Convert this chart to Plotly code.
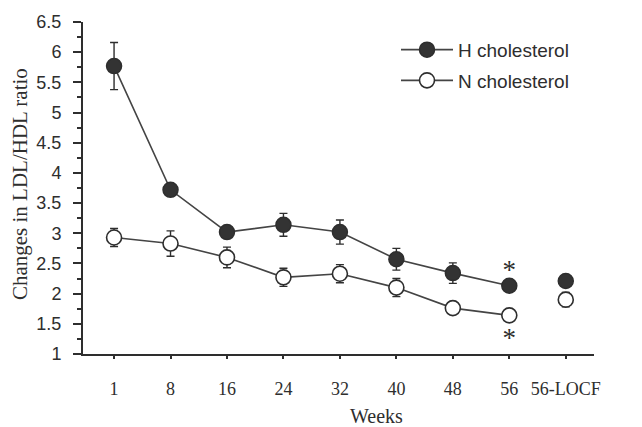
import plotly.graph_objects as go

categories = ["1", "8", "16", "24", "32", "40", "48", "56", "56-LOCF"]
h_values = [5.77, 3.72, 3.02, 3.14, 3.02, 2.57, 2.34, 2.13, 2.21]
h_errors = [0.39, 0.05, 0.10, 0.19, 0.20, 0.18, 0.17, 0.08, 0.08]
n_values = [2.93, 2.83, 2.60, 2.27, 2.33, 2.10, 1.76, 1.64, 1.90]
n_errors = [0.15, 0.21, 0.17, 0.15, 0.15, 0.15, 0.06, 0.06, 0.12]
star_y = [2.35, 1.23]
y_ticks = [1, 1.5, 2, 2.5, 3, 3.5, 4, 4.5, 5, 5.5, 6, 6.5]

xpos = list(range(len(categories)))
main_n = len(categories) - 1  # last category drawn unconnected

ink = "#2e2e2e"
line_col = "#444444"
sans = "Liberation Sans, Arial, sans-serif"
serif = "Liberation Serif, Times New Roman, serif"

fig = go.Figure()

# connecting lines (first 8 points)
fig.add_trace(go.Scatter(
    x=xpos[:main_n], y=h_values[:main_n], mode="lines",
    line=dict(color=line_col, width=1.6), showlegend=False, hoverinfo="skip"))
fig.add_trace(go.Scatter(
    x=xpos[:main_n], y=n_values[:main_n], mode="lines",
    line=dict(color=line_col, width=1.6), showlegend=False, hoverinfo="skip"))

# markers with error bars
fig.add_trace(go.Scatter(
    x=xpos, y=h_values, mode="markers", name="H cholesterol",
    marker=dict(size=15, color="#333333", line=dict(color=ink, width=1.5)),
    error_y=dict(type="data", array=h_errors, visible=True, color=ink, thickness=1.4, width=4),
    showlegend=False))
fig.add_trace(go.Scatter(
    x=xpos, y=n_values, mode="markers", name="N cholesterol",
    marker=dict(size=15, color="white", line=dict(color=ink, width=1.6)),
    error_y=dict(type="data", array=n_errors, visible=True, color=ink, thickness=1.4, width=4),
    showlegend=False))

# legend entries
fig.add_trace(go.Scatter(
    x=[None], y=[None], mode="lines+markers", name="H cholesterol", legendgroup="h",
    marker=dict(size=15, color="#333333", line=dict(color=ink, width=1.5)),
    line=dict(color=line_col, width=1.6)))
fig.add_trace(go.Scatter(
    x=[None], y=[None], mode="lines+markers", name="N cholesterol", legendgroup="n",
    marker=dict(size=15, color="white", line=dict(color=ink, width=1.6)),
    line=dict(color=line_col, width=1.6)))

# significance stars at week 56
fig.add_trace(go.Scatter(
    x=[xpos[7], xpos[7]], y=star_y, mode="text", text=["*", "*"],
    textfont=dict(family=serif, size=27, color=ink),
    textposition="middle center", showlegend=False, hoverinfo="skip"))

L, R, T, B = 83, 48, 14, 73
W, H = 642, 427
pw, ph = W - L - R, H - T - B


def px_x(x):
    return (x - L) / pw


def px_y(y):
    return (H - B - y) / ph


fig.update_layout(
    width=W, height=H,
    margin=dict(l=L, r=R, t=T, b=B),
    paper_bgcolor="white", plot_bgcolor="white",
    showlegend=True,
    legend=dict(x=px_x(396), y=px_y(23), xanchor="left", yanchor="top",
                font=dict(family=sans, size=19, color=ink),
                bgcolor="rgba(0,0,0,0)", itemwidth=52,
                traceorder="grouped", tracegroupgap=3),
    annotations=[
        dict(text="Changes in LDL/HDL ratio", x=px_x(20), y=px_y(180),
             xref="paper", yref="paper", xanchor="center", yanchor="middle",
             showarrow=False, textangle=-90, font=dict(family=serif, size=21, color=ink)),
        dict(text="Weeks", x=px_x(376), y=px_y(417),
             xref="paper", yref="paper", xanchor="center", yanchor="middle",
             showarrow=False, font=dict(family=serif, size=20, color=ink)),
    ],
)

fig.update_xaxes(
    range=[-0.55, 8.5], tickmode="array", tickvals=xpos, ticktext=categories,
    showline=True, linecolor=ink, linewidth=2, ticks="outside", ticklen=3,
    tickcolor=ink, tickwidth=2, showgrid=False, zeroline=False,
    tickfont=dict(family=serif, size=18, color=ink), ticklabelstandoff=14)
fig.update_yaxes(
    range=[1, 6.5], tickmode="array", tickvals=y_ticks,
    ticktext=[f"{v:g}" for v in y_ticks],
    showline=True, linecolor=ink, linewidth=2, ticks="outside", ticklen=8,
    tickcolor=ink, tickwidth=2, showgrid=False, zeroline=False,
    minor=dict(dtick=0.25, tick0=1, ticks="outside", ticklen=4, tickcolor=ink, tickwidth=1.5),
    tickfont=dict(family=sans, size=18, color=ink), ticklabelstandoff=8)

fig.write_html("out.html", config={"displayModeBar": False},
               post_script="document.body.style.margin='0';")
